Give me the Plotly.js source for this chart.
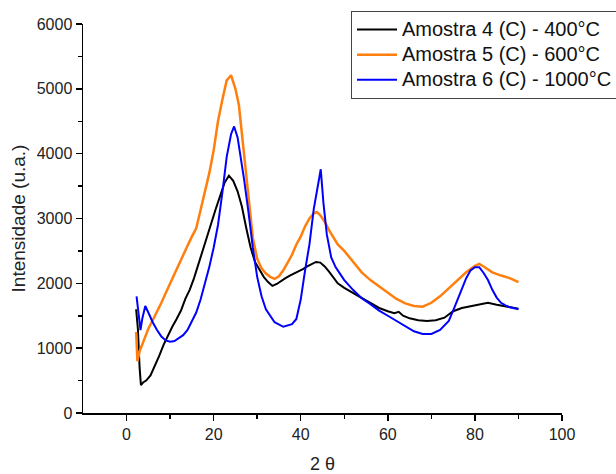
<!DOCTYPE html>
<html>
<head>
<meta charset="utf-8">
<script src="https://cdn.plot.ly/plotly-3.0.1.min.js"></script>
<style>html,body{margin:0;padding:0;background:#fff}#chart{width:616px;height:474px}</style>
</head>
<body>
<div id="chart"></div>
<script>
// Amostra 4 (C) - 400°C
const x4 = [2.2,2.6,3.0,3.3,3.8,4.5,5.5,6.5,7.5,8.5,9.5,10.5,11.5,12.5,13.5,14.5,15.5,16.5,17.5,18.5,19.5,20.5,21.5,22.5,23.5,24.5,25.5,26.5,27.5,28.5,29.5,30.5,31.5,32.5,33.5,34.5,35.5,36.5,37.5,38.5,39.5,40.5,41.5,42.5,43.5,44.5,45.5,46.5,47.5,48.5,50,52,54,56,58,60,61.5,62.5,63.5,65,67,69,71,73,75,77,79,81,83,85,87,89,90];
const y4 = [1600,1300,700,430,470,500,580,720,880,1050,1200,1330,1450,1580,1760,1900,2080,2300,2500,2720,2950,3150,3350,3550,3660,3580,3420,3180,2850,2550,2330,2220,2100,2020,1960,1990,2040,2080,2120,2150,2180,2220,2260,2300,2330,2320,2260,2180,2080,2000,1930,1850,1770,1690,1620,1570,1540,1560,1500,1460,1430,1420,1430,1470,1570,1620,1650,1680,1700,1670,1650,1620,1610];
// Amostra 5 (C) - 600°C
const x5 = [2.2,2.5,3,4,5,6,7,8,9,10,11,12,13,14,15,16,17,18,19,20,21,22,23,24,25,25.8,26.8,27.6,28.3,29,30,31,32,33,34,35,36,37,38,39,40,41,42,43,43.7,44.5,45.5,46.5,47.5,48.5,50,52,54,56,58,60,62,64,66,68,70,72,74,76,78,80,81,82,84,86,88,90];
const y5 = [1250,800,950,1130,1300,1430,1560,1700,1850,2000,2130,2280,2430,2580,2720,2850,3130,3400,3700,4050,4500,4830,5130,5210,5000,4750,4150,3600,3150,2700,2380,2230,2150,2100,2070,2110,2200,2320,2440,2600,2720,2880,3000,3080,3100,3050,2950,2820,2700,2600,2500,2330,2170,2050,1950,1850,1760,1690,1650,1640,1700,1800,1920,2050,2170,2270,2300,2260,2170,2120,2080,2020];
// Amostra 6 (C) - 1000°C
const x6 = [2.3,2.8,3.2,3.6,4.3,5,6,7,8,9,10,11,12,13,14,15,16,17,18,19,20,21,22,23,24,24.7,25.5,26,27,28,29,30,31,32,34,36,38,39,40,41,42,43,44,44.6,45.2,46,47,48,49,50,52,54,56,58,60,62,64,66,68,70,72,74,75,76,77,78,79,80,81,82,83,84,85,86,87,88,90];
const y6 = [1800,1450,1280,1450,1650,1550,1400,1280,1180,1120,1100,1110,1150,1200,1280,1420,1550,1750,1980,2250,2550,2900,3400,3950,4300,4420,4250,4050,3600,3100,2550,2100,1800,1600,1400,1330,1370,1450,1750,2200,2600,3150,3550,3760,3250,2750,2400,2250,2150,2050,1900,1770,1680,1580,1500,1420,1330,1260,1220,1220,1280,1420,1580,1750,1920,2080,2200,2250,2250,2160,2050,1900,1780,1700,1660,1630,1600];

const names = ['Amostra 4 (C) - 400°C','Amostra 5 (C) - 600°C','Amostra 6 (C) - 1000°C'];
const xTicks = [0,20,40,60,80,100];
const yTicks = [0,1000,2000,3000,4000,5000,6000];

const font = 'Arial, "Liberation Sans", sans-serif';
const lg = n => '<span style="font-size:20px">' + n + '</span>';
const traces = [
  {x:x4, y:y4, name:lg(names[0]), type:'scatter', mode:'lines', line:{color:'#000000', width:2}},
  {x:x5, y:y5, name:lg(names[1]), type:'scatter', mode:'lines', line:{color:'#ff7f0e', width:2.5}},
  {x:x6, y:y6, name:lg(names[2]), type:'scatter', mode:'lines', line:{color:'#0000ff', width:2}}
];
const axisCommon = {
  showgrid:false, zeroline:false, showline:true, linecolor:'#000', linewidth:1.5,
  ticks:'outside', ticklen:6, tickwidth:1.5, tickcolor:'#000',
  tickfont:{family:font, size:16, color:'#222'}
};
const layout = {
  width:616, height:474,
  margin:{l:83, r:54, t:24, b:61, autoexpand:false},
  paper_bgcolor:'#fff', plot_bgcolor:'#fff',
  font:{family:font, color:'#222'},
  xaxis:Object.assign({}, axisCommon, {
    range:[-10,100], tickvals:xTicks, ticktext:xTicks.map(String),
    minor:{tickvals:[10,30,50,70,90], ticks:'outside', ticklen:4, tickwidth:1.5, tickcolor:'#000'},
    title:{text:'2 θ', font:{family:font, size:18, color:'#222'}, standoff:18}
  }),
  yaxis:Object.assign({}, axisCommon, {
    range:[0,6000], tickvals:yTicks, ticktext:yTicks.map(String),
    minor:{tickvals:[500,1500,2500,3500,4500,5500], ticks:'outside', ticklen:4, tickwidth:1.5, tickcolor:'#000'},
    title:{text:'Intensidade (u.a.)', font:{family:font, size:19, color:'#222'}, standoff:6}
  }),
  legend:{x:0.5595, y:1.0334, xanchor:'left', yanchor:'top',
    bgcolor:'#fff', bordercolor:'#444', borderwidth:1,
    font:{family:font, size:17, color:'#111'}, itemwidth:40, tracegroupgap:0},
  showlegend:true
};
Plotly.newPlot('chart', traces, layout, {staticPlot:true, displayModeBar:false});
</script>
</body>
</html>
